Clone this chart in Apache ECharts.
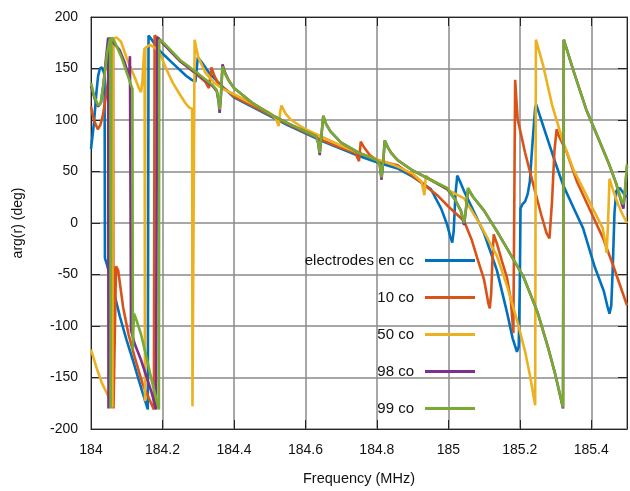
<!DOCTYPE html>
<html><head><meta charset="utf-8">
<script src="https://cdn.jsdelivr.net/npm/echarts@6/dist/echarts.min.js"></script>
<style>html,body{margin:0;padding:0;background:#fff}#c{width:630px;height:491px}</style>
</head><body><div id="c"></div>
<script>
const seriesNames = ['electrodes en cc', '10 co', '50 co', '98 co', '99 co'];
const xTicks = [184, 184.2, 184.4, 184.6, 184.8, 185, 185.2, 185.4];
const yTicks = [-200, -150, -100, -50, 0, 50, 100, 150, 200];

const blueData = [[184.000,72],[184.008,96],[184.015,126],[184.020,143],[184.025,150],[184.031,151],[184.036,146],[184.038,142],[184.039,-34],[184.045,-41],[184.053,-51],[184.066,-70],[184.081,-91],[184.099,-113],[184.117,-133],[184.135,-154],[184.150,-171],[184.159,-181],[184.161,182],[184.170,178],[184.190,168],[184.229,155],[184.266,143],[184.282,139],[184.292,137],[184.296,150],[184.299,161],[184.310,156],[184.330,146],[184.360,135],[184.400,122],[184.450,113],[184.500,104],[184.550,95],[184.600,87],[184.650,79],[184.700,72],[184.750,65],[184.800,59],[184.858,53],[184.900,45],[184.951,33],[184.980,14],[184.997,-2],[185.006,-14],[185.011,-19],[185.015,-8],[185.020,28],[185.025,46],[185.033,40],[185.044,31],[185.070,12],[185.100,-10],[185.136,-46],[185.165,-88],[185.180,-112],[185.192,-125],[185.197,-120],[185.200,-60],[185.202,14],[185.207,18],[185.215,21],[185.222,28],[185.228,40],[185.236,80],[185.243,112],[185.246,115],[185.260,100],[185.280,79],[185.300,58],[185.321,37],[185.350,15],[185.377,-5],[185.410,-43],[185.435,-66],[185.446,-82],[185.451,-88],[185.456,-80],[185.460,-45],[185.465,10],[185.470,31],[185.480,34],[185.490,29],[185.500,25]];

const orangeData = [[184.000,113],[184.008,100],[184.019,91],[184.026,95],[184.033,104],[184.045,130],[184.055,160],[184.062,180],[184.063,-180],[184.070,-42],[184.076,-46],[184.090,-82],[184.105,-108],[184.122,-130],[184.145,-157],[184.176,-181],[184.178,182],[184.190,179],[184.200,175],[184.250,157],[184.300,143],[184.320,137],[184.330,131],[184.337,151],[184.345,143],[184.360,133],[184.380,129],[184.400,123],[184.450,114],[184.500,105],[184.550,96],[184.600,88],[184.650,80],[184.700,73],[184.740,68],[184.750,60],[184.755,79],[184.765,73],[184.780,66],[184.800,61],[184.858,56],[184.900,46],[184.969,27],[185.000,16],[185.044,2],[185.065,-16],[185.081,-34],[185.100,-55],[185.112,-78],[185.116,-83],[185.120,-68],[185.124,-30],[185.127,-11],[185.136,-20],[185.150,-37],[185.164,-53],[185.175,-75],[185.182,-107],[185.185,40],[185.187,139],[185.194,101],[185.215,68],[185.238,37],[185.260,8],[185.275,-10],[185.283,-15],[185.290,20],[185.297,70],[185.303,91],[185.310,84],[185.331,69],[185.360,40],[185.400,10],[185.432,-14],[185.460,-40],[185.480,-60],[185.500,-80]];

const yellowData = [[184.000,-123],[184.015,-140],[184.030,-155],[184.048,-168],[184.058,-176],[184.060,-179],[184.061,179],[184.072,180],[184.084,176],[184.092,168],[184.100,160],[184.112,150],[184.125,139],[184.134,131],[184.140,127],[184.144,138],[184.148,163],[184.150,170],[184.151,-173],[184.152,170],[184.165,173],[184.180,170],[184.195,163],[184.210,150],[184.229,136],[184.250,124],[184.265,116],[184.275,112],[184.283,111],[184.284,-178],[184.289,-178],[184.290,178],[184.300,161],[184.320,146],[184.345,136],[184.370,130],[184.400,125],[184.450,116],[184.500,107],[184.518,101],[184.525,94],[184.530,109],[184.533,114],[184.545,106],[184.560,100],[184.600,91],[184.650,83],[184.700,75],[184.750,68],[184.800,62],[184.850,56],[184.900,48],[184.925,40],[184.933,27],[184.937,46],[184.950,42],[185.000,32],[185.044,24],[185.090,-2],[185.136,-32],[185.165,-62],[185.192,-94],[185.215,-125],[185.229,-149],[185.243,-177],[185.245,178],[185.266,152],[185.290,115],[185.321,79],[185.350,52],[185.386,27],[185.410,10],[185.432,-5],[185.440,-20],[185.443,-29],[185.447,0],[185.451,43],[185.460,33],[185.475,18],[185.488,8],[185.500,0]];

const purpleData = [[184.000,133],[184.010,121],[184.020,113],[184.028,117],[184.035,135],[184.042,160],[184.048,180],[184.049,-180],[184.051,180],[184.060,176],[184.080,168],[184.095,155],[184.103,146],[184.107,141],[184.109,162],[184.112,-104],[184.122,-117],[184.140,-133],[184.155,-149],[184.170,-165],[184.182,-181],[184.185,180],[184.195,177],[184.200,175],[184.250,157],[184.300,144],[184.340,133],[184.352,128],[184.357,118],[184.360,107],[184.364,125],[184.368,154],[184.375,146],[184.386,138],[184.400,131],[184.450,117],[184.500,106],[184.550,97],[184.600,89],[184.630,84],[184.636,77],[184.640,66],[184.645,85],[184.650,104],[184.658,96],[184.670,89],[184.700,78],[184.750,68],[184.800,61],[184.808,57],[184.813,42],[184.818,60],[184.822,80],[184.830,74],[184.840,68],[184.858,61],[184.900,51],[184.950,42],[184.997,33],[185.020,22],[185.035,12],[185.041,3],[185.044,-2],[185.050,15],[185.055,33],[185.070,25],[185.100,12],[185.136,-8],[185.170,-28],[185.210,-52],[185.250,-87],[185.280,-122],[185.300,-148],[185.321,-180],[185.323,178],[185.350,148],[185.386,110],[185.420,82],[185.451,56],[185.470,38],[185.486,18],[185.490,14],[185.495,33],[185.500,55]];

const greenData = [[184.000,136],[184.010,122],[184.020,114],[184.027,116],[184.035,135],[184.045,165],[184.054,180],[184.055,-180],[184.057,180],[184.065,177],[184.084,162],[184.100,146],[184.112,134],[184.116,130],[184.117,-123],[184.120,-88],[184.125,-92],[184.140,-108],[184.155,-130],[184.170,-153],[184.182,-170],[184.190,-181],[184.191,178],[184.200,176],[184.250,158],[184.300,145],[184.340,134],[184.352,129],[184.357,120],[184.360,110],[184.364,127],[184.368,152],[184.375,145],[184.386,138],[184.400,131],[184.450,117],[184.500,106],[184.550,97],[184.600,89],[184.630,84],[184.636,78],[184.640,68],[184.645,86],[184.650,104],[184.658,96],[184.670,89],[184.700,78],[184.750,68],[184.800,61],[184.808,57],[184.813,44],[184.818,61],[184.822,80],[184.830,74],[184.840,68],[184.858,61],[184.900,51],[184.950,42],[184.997,34],[185.020,22],[185.035,12],[185.041,4],[185.044,0],[185.050,16],[185.055,34],[185.070,25],[185.100,12],[185.136,-8],[185.170,-28],[185.210,-52],[185.250,-87],[185.280,-122],[185.300,-148],[185.321,-179],[185.323,178],[185.350,148],[185.386,110],[185.420,82],[185.451,56],[185.470,38],[185.486,20],[185.490,18],[185.495,35],[185.500,57]];

const colors = ['#0072BD', '#D95319', '#EDB120', '#7E2F8E', '#77AC30'];
const allData = [blueData, orangeData, yellowData, purpleData, greenData];

const FONT = '"Liberation Sans", Arial, Helvetica, sans-serif';
const axisCol = '#262626';
const chart = echarts.init(document.getElementById('c'), null, {renderer: 'canvas'});
const xmin = 184, xmax = 185.5, ymin = -200, ymax = 200;

function xFmt(v) {
  if (Math.abs(v - xmax) < 1e-6) return '';
  return String(+v.toFixed(1));
}

const option = {
  animation: false,
  backgroundColor: '#ffffff',
  textStyle: {fontFamily: FONT},
  grid: {left: 91, top: 17, width: 540, height: 416, containLabel: false},
  xAxis: [{
    type: 'value', min: xmin, max: xmax, interval: 0.2, position: 'bottom',
    axisLine: {show: true, onZero: false, lineStyle: {color: axisCol, width: 1}},
    axisTick: {show: true, inside: true, length: 9, lineStyle: {color: axisCol, width: 1}},
    axisLabel: {color: '#111', fontSize: 14, fontFamily: FONT, margin: 14, formatter: xFmt},
    splitLine: {show: true, lineStyle: {color: '#8a8a8a', width: 1.5}},
    name: 'Frequency (MHz)', nameLocation: 'middle', nameGap: 42,
    nameTextStyle: {color: '#111', fontSize: 14.5, fontFamily: FONT}
  }, {
    type: 'value', min: xmin, max: xmax, interval: 0.2, position: 'top',
    axisLine: {show: true, onZero: false, lineStyle: {color: axisCol, width: 1}},
    axisTick: {show: true, inside: true, length: 9, lineStyle: {color: axisCol, width: 1}},
    axisLabel: {show: false}, splitLine: {show: false}
  }],
  yAxis: [{
    type: 'value', min: ymin, max: ymax, interval: 50, position: 'left',
    axisLine: {show: true, onZero: false, lineStyle: {color: axisCol, width: 1}},
    axisTick: {show: true, inside: true, length: 9, lineStyle: {color: axisCol, width: 1}},
    axisLabel: {color: '#111', fontSize: 14, fontFamily: FONT, margin: 13},
    splitLine: {show: true, lineStyle: {color: '#8a8a8a', width: 1.5}},
    name: 'arg(r) (deg)', nameLocation: 'middle', nameGap: 66, nameRotate: 90,
    nameTextStyle: {color: '#111', fontSize: 14, fontFamily: FONT}
  }, {
    type: 'value', min: ymin, max: ymax, interval: 50, position: 'right',
    axisLine: {show: true, onZero: false, lineStyle: {color: axisCol, width: 1}},
    axisTick: {show: true, inside: true, length: 9, lineStyle: {color: axisCol, width: 1}},
    axisLabel: {show: false}, splitLine: {show: false}
  }],
  legend: {
    orient: 'vertical', align: 'right', right: 150, top: 248,
    itemWidth: 50, itemHeight: 3, itemGap: 22, icon: 'rect', selectedMode: false,
    textStyle: {color: '#111', fontSize: 15, fontFamily: FONT, padding: [0, 6, 0, 0]},
    data: seriesNames
  },
  series: seriesNames.map((n, i) => ({
    name: n, type: 'line', data: allData[i], xAxisIndex: 0, yAxisIndex: 0,
    showSymbol: false, symbol: 'none', clip: true,
    lineStyle: {color: colors[i], width: 2.6},
    itemStyle: {color: colors[i]},
    emphasis: {disabled: true}
  }))
};
chart.setOption(option);
</script></body></html>
